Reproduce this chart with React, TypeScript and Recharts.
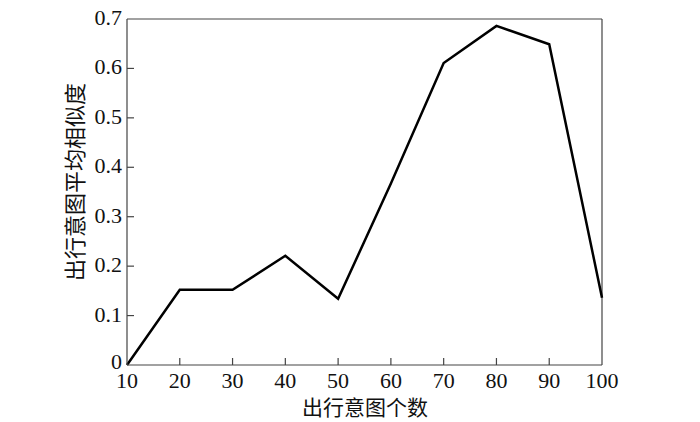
import { LineChart, Line, XAxis, YAxis, ReferenceLine } from 'recharts';

const intentCounts = [10, 20, 30, 40, 50, 60, 70, 80, 90, 100];
const avgSimilarity = [0, 0.152, 0.152, 0.221, 0.134, 0.367, 0.611, 0.686, 0.649, 0.136];
const xTicks = [10, 20, 30, 40, 50, 60, 70, 80, 90, 100];
const yTicks = [0, 0.1, 0.2, 0.3, 0.4, 0.5, 0.6, 0.7];

const data = intentCounts.map((n, i) => ({ n, value: avgSimilarity[i] }));

const SERIF = '"Liberation Serif", "Times New Roman", serif';
const CJK = '"Noto Sans CJK SC", sans-serif';
const AXIS = '#444';

const XTick = (props: any) => {
  const { x, y, payload } = props;
  const isEdge = payload.value === 10 || payload.value === 100;
  return (
    <g>
      {!isEdge && <line x1={x} x2={x} y1={y} y2={y - 7} stroke={AXIS} strokeWidth={1.2} />}
      <text x={x} y={y + 23} textAnchor="middle" fontFamily={SERIF} fontSize={22} fill="#111">
        {payload.value}
      </text>
    </g>
  );
};

const YTick = (props: any) => {
  const { x, y, payload } = props;
  const isZero = payload.value === 0;
  const isEdge = isZero || payload.value === 0.7;
  return (
    <g>
      {!isEdge && <line x1={x} x2={x + 7} y1={y} y2={y} stroke={AXIS} strokeWidth={1.2} />}
      <text x={isZero ? x - 5 : x - 5} y={isZero ? y + 4 : y + 6} textAnchor="end" fontFamily={SERIF} fontSize={22} fill="#111">
        {isZero ? '0' : payload.value.toFixed(1)}
      </text>
    </g>
  );
};

// y-axis title, rotated, placed left of the tick labels
const YTitle = () => (
  <text
    x={73}
    y={182}
    transform="rotate(-90, 73, 182)"
    textAnchor="middle"
    dominantBaseline="central"
    fontFamily={CJK}
    fontSize={22}
    fill="#111"
  >
    出行意图平均相似度
  </text>
);

const XTitle = () => (
  <text x={365} y={406} textAnchor="middle" dominantBaseline="central" fontFamily={CJK} fontSize={21} fill="#111">
    出行意图个数
  </text>
);

export default function App() {
  return (
    <div style={{ position: 'absolute', left: 0, top: 0, width: 700, height: 422, background: '#fff' }}>
      <LineChart width={700} height={422} data={data} margin={{ top: 19, right: 98, left: 0, bottom: 0 }}>
        <XAxis
          dataKey="n"
          type="number"
          domain={[10, 100]}
          ticks={xTicks}
          tickSize={0}
          tickMargin={0}
          tickLine={false}
          height={57}
          stroke={AXIS}
          strokeWidth={1.2}
          tick={<XTick />}
          interval={0}
          label={<XTitle />}
        />
        <YAxis
          type="number"
          domain={[0, 0.7]}
          ticks={yTicks}
          tickSize={0}
          tickMargin={0}
          tickLine={false}
          width={127}
          stroke={AXIS}
          strokeWidth={1.2}
          tick={<YTick />}
          interval={0}
          label={<YTitle />}
        />
        <ReferenceLine y={0.7} stroke={AXIS} strokeWidth={1.2} />
        <ReferenceLine x={100} stroke={AXIS} strokeWidth={1.2} />
        <Line
          type="linear"
          dataKey="value"
          stroke="#000"
          strokeWidth={2.5}
          dot={false}
          isAnimationActive={false}
        />
      </LineChart>
    </div>
  );
}
